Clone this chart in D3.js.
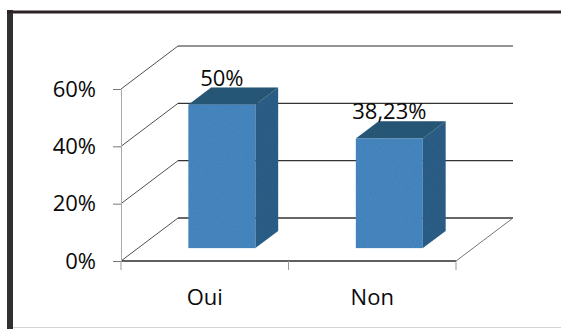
<!DOCTYPE html>
<html>
<head>
<meta charset="utf-8">
<script src="https://cdn.jsdelivr.net/npm/d3@7"></script>
<style>
  html, body { margin: 0; padding: 0; background: #fff; }
  svg { display: block; font-family: "Open Sans", sans-serif; }
</style>
</head>
<body>
<svg id="chart" width="561" height="329"></svg>
<script>
// Categories and their percentages
const categories = ["Oui", "Non"];
const values = [50, 38.23];
const valueLabels = ["50%", "38,23%"];
const yTicks = [0, 20, 40, 60];

const svg = d3.select("#chart");
const W = 561, H = 329;

// Light print grain for the bar faces
const defs = svg.append("defs");
const grain = defs.append("filter").attr("id", "grain")
  .attr("x", "0%").attr("y", "0%").attr("width", "100%").attr("height", "100%");
grain.append("feTurbulence").attr("type", "fractalNoise").attr("baseFrequency", 0.9)
  .attr("numOctaves", 2).attr("seed", 3).attr("result", "noise");
grain.append("feColorMatrix").attr("in", "noise").attr("type", "matrix")
  .attr("values", "0 0 0 0 0  0 0 0 0 0  0 0 0 0 0  0 0 0 0.22 0").attr("result", "dark");
grain.append("feComposite").attr("in", "dark").attr("in2", "SourceGraphic").attr("operator", "in").attr("result", "speck");
const merge = grain.append("feMerge");
merge.append("feMergeNode").attr("in", "SourceGraphic");
merge.append("feMergeNode").attr("in", "speck");

// Frame: thick dark left and top edge, faint bottom edge
svg.append("rect").attr("x", 7).attr("y", 10).attr("width", 6).attr("height", H - 10).attr("fill", "#303030");
svg.append("rect").attr("x", 7).attr("y", 10.5).attr("width", W - 7).attr("height", 3).attr("fill", "#2a2226");
svg.append("line").attr("x1", 13).attr("x2", W).attr("y1", 327.5).attr("y2", 327.5)
  .attr("stroke", "#d4d4d4").attr("stroke-width", 1);

// Front plane scales
const x = d3.scaleBand().domain(categories).range([121, 456]).padding(0);
const y = d3.scaleLinear().domain([0, 60]).range([261, 89]);

// Depth of the 3D box
const DX = 57, DY = -43;

const g = svg.append("g");

// Back wall gridlines
g.selectAll("line.grid").data(yTicks).join("line")
  .attr("class", "grid")
  .attr("x1", x.range()[0] + DX).attr("x2", x.range()[1] + DX)
  .attr("y1", d => y(d) + DY).attr("y2", d => y(d) + DY)
  .attr("stroke", d => d === 60 ? "#707070" : "#333")
  .attr("stroke-width", 1.4);

// Side wall diagonals
g.selectAll("line.diag").data(yTicks).join("line")
  .attr("class", "diag")
  .attr("x1", x.range()[0]).attr("x2", x.range()[0] + DX)
  .attr("y1", d => y(d)).attr("y2", d => y(d) + DY)
  .attr("stroke", "#505050").attr("stroke-width", 1);

// Floor: right diagonal and front edge
g.append("line")
  .attr("x1", x.range()[1]).attr("x2", x.range()[1] + DX)
  .attr("y1", y(0)).attr("y2", y(0) + DY)
  .attr("stroke", "#777").attr("stroke-width", 1);
g.append("line")
  .attr("x1", x.range()[0]).attr("x2", x.range()[1])
  .attr("y1", y(0)).attr("y2", y(0))
  .attr("stroke", "#2a2a2a").attr("stroke-width", 1.4);

// Y axis on the front plane
const yAxis = d3.axisLeft(y)
  .tickValues(yTicks)
  .tickFormat(d => d + "%")
  .tickSize(8)
  .tickSizeOuter(0)
  .tickPadding(17);
const ya = svg.append("g").attr("transform", `translate(${x.range()[0]},0)`).call(yAxis);
ya.select(".domain").attr("stroke", "#aaa");
ya.selectAll(".tick line").attr("stroke", "#777");
ya.selectAll(".tick text")
  .attr("font-size", 22).attr("fill", "#0a0a0a")
  .attr("font-family", "Open Sans, sans-serif");

// X axis: labels at category centres, ticks at category boundaries
const xAxis = d3.axisBottom(x).tickSize(0).tickSizeOuter(0).tickPadding(0);
const xa = svg.append("g").attr("transform", `translate(0,${y(0)})`).call(xAxis);
xa.select(".domain").remove();
xa.selectAll(".tick text")
  .attr("y", 44).attr("dy", 0)
  .attr("font-size", 22).attr("fill", "#0a0a0a")
  .attr("font-family", "Open Sans, sans-serif");
const bounds = categories.map(c => x(c)).concat([x.range()[1]]);
svg.selectAll("line.xtick").data(bounds).join("line")
  .attr("class", "xtick")
  .attr("x1", d => d).attr("x2", d => d)
  .attr("y1", y(0)).attr("y2", y(0) + 9)
  .attr("stroke", "#999").attr("stroke-width", 1);

// 3D bars
const F0 = 0.30, F1 = 0.70;     // front / back depth fractions of each bar
const barW = x.bandwidth() * 0.40;
const colFront = "#4a8bc6", colSide = "#2e628c", colTop = "#2c5b7c";

const bars = svg.selectAll("g.bar").data(categories.map((c, i) => ({ c, v: values[i], label: valueLabels[i] })))
  .join("g").attr("class", "bar");

bars.each(function (d) {
  const sel = d3.select(this);
  const cx = x(d.c) + x.bandwidth() / 2;
  const x0 = cx - barW / 2 + F0 * DX, x1 = x0 + barW;
  const yb = y(0) + F0 * DY, yt = y(d.v) + F0 * DY;
  const ox = (F1 - F0) * DX, oy = (F1 - F0) * DY;
  const body = sel.append("g").attr("filter", "url(#grain)");
  // side face
  body.append("path")
    .attr("d", `M${x1},${yt} L${x1 + ox},${yt + oy} L${x1 + ox},${yb + oy} L${x1},${yb} Z`)
    .attr("fill", colSide);
  // top face
  body.append("path")
    .attr("d", `M${x0},${yt} L${x0 + ox},${yt + oy} L${x1 + ox},${yt + oy} L${x1},${yt} Z`)
    .attr("fill", colTop);
  // front face
  body.append("rect")
    .attr("x", x0).attr("y", yt).attr("width", barW).attr("height", yb - yt)
    .attr("fill", colFront);
  // value label
  sel.append("text")
    .attr("x", (x0 + x1) / 2)
    .attr("y", y(d.v) + F1 * DY - 2)
    .attr("text-anchor", "middle")
    .attr("font-size", 22)
    .attr("fill", "#0a0a0a")
    .text(d.label);
});
</script>
</body>
</html>
